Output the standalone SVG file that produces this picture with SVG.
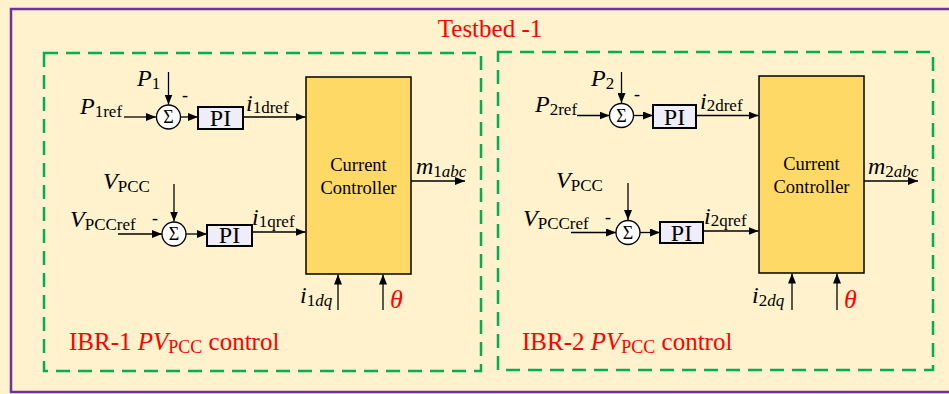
<svg xmlns="http://www.w3.org/2000/svg" width="949" height="394" viewBox="0 0 949 394">
<defs>
<marker id="ah" viewBox="0 0 10 8" refX="10" refY="4" markerWidth="10" markerHeight="8" markerUnits="userSpaceOnUse" orient="auto">
<path d="M0,0 L10,4 L0,8 z" fill="#000"/>
</marker>
</defs>
<style>
.t{font-family:"Liberation Serif","Times New Roman",serif;fill:#000}
.it{font-style:italic}
.n{font-style:normal}
.red{fill:#FF0000}
.ln{stroke:#000;stroke-width:1.3;fill:none;marker-end:url(#ah)}
.sum{fill:#fff;stroke:#000;stroke-width:1.3}
.pi{fill:#EFEDF8;stroke:#000;stroke-width:2}
.cc{fill:#FFD966;stroke:#000;stroke-width:1.5}
.grp{fill:none;stroke:#00B050;stroke-width:2.5;stroke-dasharray:14 8}
</style>
<rect x="0" y="0" width="949" height="394" fill="#FFF2CC"/>
<rect x="11" y="9" width="950" height="383" fill="none" stroke="#7030A0" stroke-width="2.5"/>
<text class="t red" x="490" y="37" font-size="25" text-anchor="middle">Testbed -1</text>

<g id="ibr1">
<rect class="grp" x="44" y="53" width="437" height="318"/>
<text class="t red" x="69" y="350" font-size="25">IBR-1 <tspan class="it">PV</tspan><tspan font-size="18" dy="3">PCC</tspan><tspan dy="-3"> control</tspan></text>
</g>
<g id="ibr2">
<rect class="grp" x="498" y="52" width="435" height="318"/>
<text class="t red" x="522" y="350" font-size="25">IBR-2 <tspan class="it">PV</tspan><tspan font-size="18" dy="3">PCC</tspan><tspan dy="-3"> control</tspan></text>
</g>

<g id="sum1d">
<circle class="sum" cx="168.5" cy="117" r="12"/>
<text class="t" x="168.5" y="123" font-size="18" text-anchor="middle">Σ</text>
<text class="t" x="182" y="101" font-size="18">-</text>
</g>
<g id="pi1d">
<rect class="pi" x="198" y="107" width="45" height="22"/>
<text class="t" x="220.5" y="126" font-size="24" text-anchor="middle">PI</text>
</g>
<g id="sum1q">
<circle class="sum" cx="174" cy="234" r="12"/>
<text class="t" x="174" y="240" font-size="18" text-anchor="middle">Σ</text>
<text class="t" x="152" y="224" font-size="18">-</text>
</g>
<g id="pi1q">
<rect class="pi" x="207" y="225" width="45" height="21"/>
<text class="t" x="229.5" y="243" font-size="24" text-anchor="middle">PI</text>
</g>
<g id="cc1">
<rect class="cc" x="306" y="77" width="105" height="197"/>
<text class="t" x="358.5" y="171" font-size="18.5" text-anchor="middle">Current</text>
<text class="t" x="358.5" y="194" font-size="18.5" text-anchor="middle">Controller</text>
</g>

<g id="sum2d">
<circle class="sum" cx="621.5" cy="115.5" r="12"/>
<text class="t" x="621.5" y="121.5" font-size="18" text-anchor="middle">Σ</text>
<text class="t" x="634" y="100" font-size="18">-</text>
</g>
<g id="pi2d">
<rect class="pi" x="653" y="105" width="43" height="23"/>
<text class="t" x="674.5" y="125" font-size="24" text-anchor="middle">PI</text>
</g>
<g id="sum2q">
<circle class="sum" cx="628" cy="232.5" r="12"/>
<text class="t" x="628" y="238.5" font-size="18" text-anchor="middle">Σ</text>
<text class="t" x="605" y="223" font-size="18">-</text>
</g>
<g id="pi2q">
<rect class="pi" x="660" y="222" width="43" height="21"/>
<text class="t" x="681.5" y="241" font-size="24" text-anchor="middle">PI</text>
</g>
<g id="cc2">
<rect class="cc" x="759" y="76" width="105" height="197"/>
<text class="t" x="811.5" y="170" font-size="18.5" text-anchor="middle">Current</text>
<text class="t" x="811.5" y="193" font-size="18.5" text-anchor="middle">Controller</text>
</g>

<g id="connectors">
<line class="ln" x1="124" y1="117" x2="156" y2="117"/>
<line class="ln" x1="168.5" y1="72" x2="168.5" y2="104.5"/>
<line class="ln" x1="180.5" y1="117" x2="198" y2="117"/>
<line class="ln" x1="243" y1="117" x2="305.5" y2="117"/>
<line class="ln" x1="174" y1="184" x2="174" y2="221.5"/>
<line class="ln" x1="118" y1="234" x2="162" y2="234"/>
<line class="ln" x1="186" y1="234" x2="207" y2="234"/>
<line class="ln" x1="252" y1="232" x2="305.5" y2="232"/>
<line class="ln" x1="411" y1="181" x2="465" y2="181"/>
<line class="ln" x1="338" y1="310" x2="338" y2="274.5"/>
<line class="ln" x1="383" y1="310" x2="383" y2="274.5"/>

<line class="ln" x1="577" y1="115.5" x2="609.5" y2="115.5"/>
<line class="ln" x1="621.5" y1="72" x2="621.5" y2="103"/>
<line class="ln" x1="633.5" y1="115.5" x2="653" y2="115.5"/>
<line class="ln" x1="696" y1="115.5" x2="758.5" y2="115.5"/>
<line class="ln" x1="628" y1="183" x2="628" y2="220"/>
<line class="ln" x1="571" y1="232.5" x2="616" y2="232.5"/>
<line class="ln" x1="640" y1="232.5" x2="660" y2="232.5"/>
<line class="ln" x1="703" y1="231" x2="758.5" y2="231"/>
<line class="ln" x1="864" y1="181" x2="918" y2="181"/>
<line class="ln" x1="792" y1="310" x2="792" y2="273.5"/>
<line class="ln" x1="837" y1="310" x2="837" y2="273.5"/>
</g>

<g id="labels">
<text class="t it" x="80" y="114" font-size="24">P<tspan class="n" font-size="17" dy="3">1ref</tspan></text>
<text class="t it" x="137" y="86" font-size="24">P<tspan class="n" font-size="17" dy="3">1</tspan></text>
<text class="t it" x="246" y="111" font-size="24">i<tspan class="n" font-size="17" dy="2">1dref</tspan></text>
<text class="t it" x="103" y="189" font-size="24">V<tspan class="n" font-size="17" dy="3">PCC</tspan></text>
<text class="t it" x="70" y="227" font-size="24">V<tspan class="n" font-size="17" dy="3">PCCref</tspan></text>
<text class="t it" x="252" y="225" font-size="24">i<tspan class="n" font-size="17" dy="2">1qref</tspan></text>
<text class="t it" x="416" y="174" font-size="24">m<tspan class="n" font-size="17" dy="3">1</tspan><tspan font-size="17">abc</tspan></text>
<text class="t it" x="300" y="303" font-size="24">i<tspan class="n" font-size="17" dy="3">1</tspan><tspan font-size="17">dq</tspan></text>
<text class="t it red" x="390" y="308" font-size="26">θ</text>

<text class="t it" x="535" y="112" font-size="24">P<tspan class="n" font-size="17" dy="3">2ref</tspan></text>
<text class="t it" x="591" y="86" font-size="24">P<tspan class="n" font-size="17" dy="3">2</tspan></text>
<text class="t it" x="700" y="109" font-size="24">i<tspan class="n" font-size="17" dy="2">2dref</tspan></text>
<text class="t it" x="556" y="188" font-size="24">V<tspan class="n" font-size="17" dy="3">PCC</tspan></text>
<text class="t it" x="523" y="226" font-size="24">V<tspan class="n" font-size="17" dy="3">PCCref</tspan></text>
<text class="t it" x="704" y="224" font-size="24">i<tspan class="n" font-size="17" dy="2">2qref</tspan></text>
<text class="t it" x="868" y="174" font-size="24">m<tspan class="n" font-size="17" dy="3">2</tspan><tspan font-size="17">abc</tspan></text>
<text class="t it" x="752" y="303" font-size="24">i<tspan class="n" font-size="17" dy="3">2</tspan><tspan font-size="17">dq</tspan></text>
<text class="t it red" x="844" y="308" font-size="26">θ</text>
</g>
</svg>
